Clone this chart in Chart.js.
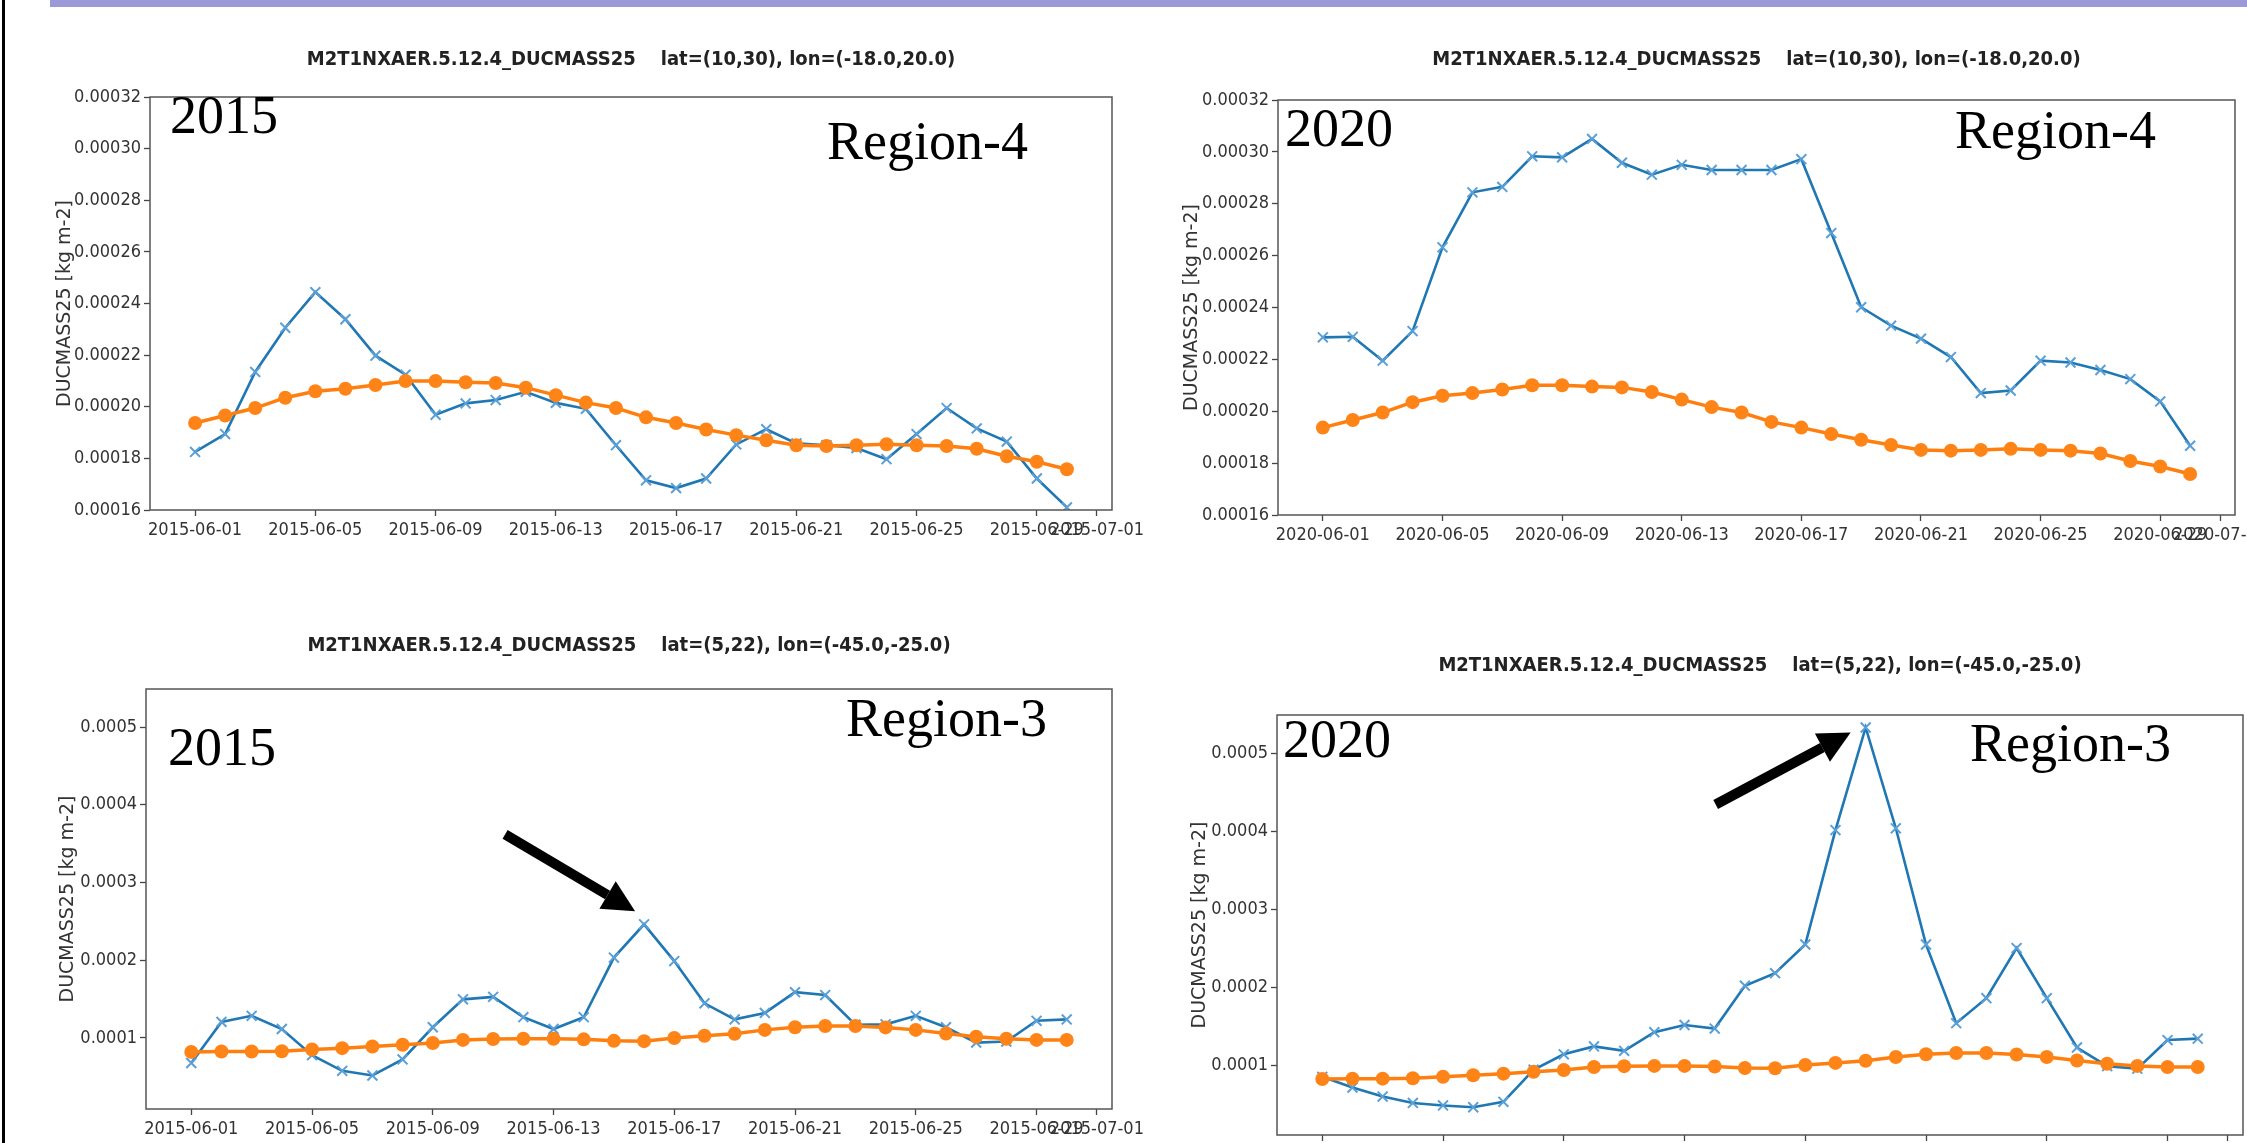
<!DOCTYPE html>
<html>
<head>
<meta charset="utf-8">
<title>DUCMASS25 daily means, June 2015 / June 2020</title>
<script src="https://cdn.jsdelivr.net/npm/chart.js@4.4.1/dist/chart.umd.min.js"></script>
<style>
  html, body { margin: 0; padding: 0; background: #fff; }
  #page { position: relative; width: 2247px; height: 1143px; overflow: hidden; background: #fff; }
  #page canvas { position: absolute; }
  .band-top { position: absolute; left: 50px; right: 0; top: 0; height: 7px; background: #9d99d9; }
  .edge-left { position: absolute; left: 2px; top: 0; width: 3px; height: 1143px; background: #000; }
</style>
</head>
<body>
<div id="page">
  <div class="band-top"></div>
  <div class="edge-left"></div>
  <canvas id="r4-2015"></canvas>
  <canvas id="r4-2020"></canvas>
  <canvas id="r3-2015"></canvas>
  <canvas id="r3-2020"></canvas>
</div>
<script>
// day of month (June), one value per day
const dayOfJune = [1, 2, 3, 4, 5, 6, 7, 8, 9, 10, 11, 12, 13, 14, 15,
                   16, 17, 18, 19, 20, 21, 22, 23, 24, 25, 26, 27, 28, 29, 30];

const xTickDays = [1, 5, 9, 13, 17, 21, 25, 29, 31];
const xTickLabels2015 = ['2015-06-01', '2015-06-05', '2015-06-09', '2015-06-13', '2015-06-17',
                         '2015-06-21', '2015-06-25', '2015-06-29', '2015-07-01'];
const xTickLabels2020 = ['2020-06-01', '2020-06-05', '2020-06-09', '2020-06-13', '2020-06-17',
                         '2020-06-21', '2020-06-25', '2020-06-29', '2020-07-01'];

const yTicksRegion4 = [0.00016, 0.00018, 0.00020, 0.00022, 0.00024, 0.00026, 0.00028, 0.00030, 0.00032];
const yTicksRegion3 = [0.0001, 0.0002, 0.0003, 0.0004, 0.0005];

// Region-4: lat=(10,30), lon=(-18.0,20.0)
const region4Daily2015 = [0.0001825, 0.0001894, 0.0002135, 0.0002306, 0.0002444, 0.0002339, 0.0002198, 0.0002124,
                          0.0001969, 0.0002013, 0.0002026, 0.0002058, 0.0002015, 0.0001992, 0.0001851, 0.0001715,
                          0.0001685, 0.0001722, 0.0001854, 0.0001913, 0.0001858, 0.0001851, 0.0001840, 0.0001797,
                          0.0001894, 0.0001995, 0.0001916, 0.0001865, 0.0001722, 0.0001610];
const region4Daily2020 = [0.0002285, 0.0002287, 0.0002195, 0.0002309, 0.0002632, 0.0002844, 0.0002865, 0.0002983,
                          0.0002979, 0.0003050, 0.0002958, 0.0002912, 0.0002950, 0.0002930, 0.0002930, 0.0002930,
                          0.0002972, 0.0002687, 0.0002401, 0.0002330, 0.0002280, 0.0002209, 0.0002070, 0.0002080,
                          0.0002195, 0.0002188, 0.0002159, 0.0002124, 0.0002038, 0.0001867];
const region4Mean = [0.0001937, 0.0001966, 0.0001995, 0.0002035, 0.0002060, 0.0002070, 0.0002084, 0.0002100,
                     0.0002100, 0.0002095, 0.0002092, 0.0002074, 0.0002045, 0.0002016, 0.0001995, 0.0001959,
                     0.0001937, 0.0001912, 0.0001890, 0.0001870, 0.0001851, 0.0001848, 0.0001851, 0.0001855,
                     0.0001851, 0.0001848, 0.0001837, 0.0001808, 0.0001787, 0.0001758];

// Region-3: lat=(5,22), lon=(-45.0,-25.0)
const region3Daily2015 = [0.0000678, 0.0001207, 0.0001285, 0.0001115, 0.0000779, 0.0000577, 0.0000517, 0.0000724,
                          0.0001138, 0.0001497, 0.0001529, 0.0001267, 0.0001115, 0.0001267, 0.0002034, 0.0002462,
                          0.0001989, 0.0001446, 0.0001239, 0.0001322, 0.0001589, 0.0001552, 0.0001170, 0.0001175,
                          0.0001285, 0.0001138, 0.0000940, 0.0000954, 0.0001221, 0.0001239];
const region3Daily2020 = [0.0000849, 0.0000711, 0.0000596, 0.0000514, 0.0000482, 0.0000459, 0.0000528, 0.0000940,
                          0.0001138, 0.0001239, 0.0001183, 0.0001422, 0.0001514, 0.0001468, 0.0002018, 0.0002179,
                          0.0002546, 0.0004014, 0.0005330, 0.0004037, 0.0002546, 0.0001537, 0.0001858, 0.0002500,
                          0.0001858, 0.0001225, 0.0000986, 0.0000954, 0.0001321, 0.0001339];
const region3Mean = [0.0000821, 0.0000826, 0.0000826, 0.0000830, 0.0000851, 0.0000869, 0.0000890, 0.0000913,
                     0.0000936, 0.0000975, 0.0000986, 0.0000989, 0.0000989, 0.0000982, 0.0000963, 0.0000959,
                     0.0001000, 0.0001028, 0.0001055, 0.0001104, 0.0001138, 0.0001154, 0.0001154, 0.0001136,
                     0.0001104, 0.0001058, 0.0001016, 0.0000989, 0.0000975, 0.0000975];

const TITLE_R4 = 'M2T1NXAER.5.12.4_DUCMASS25    lat=(10,30), lon=(-18.0,20.0)';
const TITLE_R3 = 'M2T1NXAER.5.12.4_DUCMASS25    lat=(5,22), lon=(-45.0,-25.0)';

const NARROW = "'Liberation Sans Narrow', 'DejaVu Sans Condensed', sans-serif";
const SERIF = "'Liberation Serif', 'DejaVu Serif', serif";
const Y_AXIS_W = 110;
const X_AXIS_H = 55;
const PAD_RIGHT = 45;
const TITLE_SIZE = 20;
const TITLE_PAD = 8;
const YTITLE_SIZE = 19;
const X_MARGIN = 1.5; // days of empty space either side of the data

const panels = [
  {
    id: 'r4-2015', title: TITLE_R4,
    plot: { left: 150, right: 1112, top: 97, bottom: 510 }, titleY: 60, yTitleX: 65,
    daily: region4Daily2015, mean: region4Mean, xLabels: xTickLabels2015,
    yMin: 0.00016, yMax: 0.00032, yTicks: yTicksRegion4, yDigits: 5,
    year: { text: '2015', dx: 20, dy: 36 }, region: { text: 'Region-4', dxRight: 84, dy: 62 }
  },
  {
    id: 'r4-2020', title: TITLE_R4,
    plot: { left: 1278, right: 2235, top: 100, bottom: 515 }, titleY: 60, yTitleX: 1192,
    daily: region4Daily2020, mean: region4Mean, xLabels: xTickLabels2020,
    yMin: 0.00016, yMax: 0.00032, yTicks: yTicksRegion4, yDigits: 5,
    year: { text: '2020', dx: 7, dy: 46 }, region: { text: 'Region-4', dxRight: 79, dy: 48 }
  },
  {
    id: 'r3-2015', title: TITLE_R3,
    plot: { left: 146, right: 1112, top: 689, bottom: 1109 }, titleY: 646, yTitleX: 68,
    daily: region3Daily2015, mean: region3Mean, xLabels: xTickLabels2015,
    yMin: 0.0000086, yMax: 0.000549, yTicks: yTicksRegion3, yDigits: 4,
    year: { text: '2015', dx: 22, dy: 76 }, region: { text: 'Region-3', dxRight: 65, dy: 47 },
    arrow: { tip: [-9, -13], tail: [-130, -77] }
  },
  {
    id: 'r3-2020', title: TITLE_R3,
    plot: { left: 1277, right: 2243, top: 715, bottom: 1135 }, titleY: 666, yTitleX: 1200,
    daily: region3Daily2020, mean: region3Mean, xLabels: xTickLabels2020,
    yMin: 0.0000103, yMax: 0.000549, yTicks: yTicksRegion3, yDigits: 4,
    year: { text: '2020', dx: 6, dy: 42 }, region: { text: 'Region-3', dxRight: 72, dy: 46 },
    arrow: { tip: [-15, 5], tail: [-135, 72] }
  }
];

function drawArrow(ctx, x0, y0, x1, y1) {
  const ang = Math.atan2(y1 - y0, x1 - x0);
  const headLen = 32, headHalf = 16;
  const bx = x1 - headLen * Math.cos(ang);
  const by = y1 - headLen * Math.sin(ang);
  ctx.save();
  ctx.strokeStyle = '#000';
  ctx.lineWidth = 10;
  ctx.beginPath();
  ctx.moveTo(x0, y0);
  ctx.lineTo(bx, by);
  ctx.stroke();
  ctx.fillStyle = '#000';
  ctx.beginPath();
  ctx.moveTo(x1, y1);
  ctx.lineTo(bx + headHalf * Math.sin(ang), by - headHalf * Math.cos(ang));
  ctx.lineTo(bx - headHalf * Math.sin(ang), by + headHalf * Math.cos(ang));
  ctx.closePath();
  ctx.fill();
  ctx.restore();
}

// axes box, year / region labels and the peak arrow
const decorPlugin = {
  id: 'decor',
  afterDraw(chart, args, opts) {
    const p = opts.panel;
    const { ctx, chartArea: a } = chart;
    ctx.save();
    ctx.strokeStyle = '#555';
    ctx.lineWidth = 1.5;
    ctx.strokeRect(a.left, a.top, a.right - a.left, a.bottom - a.top);

    ctx.fillStyle = '#000';
    ctx.font = '54px ' + SERIF;
    ctx.textBaseline = 'alphabetic';
    ctx.textAlign = 'left';
    ctx.fillText(p.year.text, a.left + p.year.dx, a.top + p.year.dy);
    ctx.textAlign = 'right';
    ctx.fillText(p.region.text, a.right - p.region.dxRight, a.top + p.region.dy);
    ctx.restore();

    if (p.arrow) {
      const peak = p.daily.indexOf(Math.max(...p.daily));
      const pt = chart.getDatasetMeta(1).data[peak];
      const tx = pt.x + p.arrow.tip[0], ty = pt.y + p.arrow.tip[1];
      drawArrow(ctx, tx + p.arrow.tail[0], ty + p.arrow.tail[1], tx, ty);
    }
  }
};

function makePanel(p) {
  const canvas = document.getElementById(p.id);
  const left = p.plot.left - Y_AXIS_W;
  const top = p.titleY - TITLE_PAD - (TITLE_SIZE * 1.2) / 2;
  const width = p.plot.right + PAD_RIGHT - left;
  const height = p.plot.bottom + X_AXIS_H - top;
  canvas.width = width;
  canvas.height = height;
  canvas.style.left = left + 'px';
  canvas.style.top = top + 'px';

  const titleBottomPad = p.plot.top - top - TITLE_PAD - TITLE_SIZE * 1.2;
  const yTitlePad = p.yTitleX - left - (YTITLE_SIZE * 1.2) / 2;

  new Chart(canvas, {
    type: 'line',
    data: {
      datasets: [
        {
          label: 'mean',
          data: dayOfJune.map((d, i) => ({ x: d, y: p.mean[i] })),
          borderColor: '#ff7f0e',
          backgroundColor: '#ff7f0e',
          borderWidth: 3.5,
          pointStyle: 'circle',
          pointRadius: 7,
          pointBorderWidth: 0,
          pointBackgroundColor: '#ff8418',
          order: 1
        },
        {
          label: 'daily',
          data: dayOfJune.map((d, i) => ({ x: d, y: p.daily[i] })),
          borderColor: '#1f77b4',
          backgroundColor: '#1f77b4',
          borderWidth: 2.6,
          pointStyle: 'crossRot',
          pointRadius: 7,
          pointBorderWidth: 2,
          pointBorderColor: '#5a9fd6',
          order: 2
        }
      ]
    },
    options: {
      responsive: false,
      animation: false,
      events: [],
      layout: { padding: { left: 0, right: PAD_RIGHT, top: 0, bottom: 0 } },
      elements: { line: { tension: 0 } },
      plugins: {
        legend: { display: false },
        tooltip: { enabled: false },
        title: {
          display: true,
          text: p.title,
          fullSize: false,
          color: '#222',
          font: { family: NARROW, size: TITLE_SIZE, weight: 'bold' },
          padding: { top: TITLE_PAD, bottom: titleBottomPad }
        },
        decor: { panel: p }
      },
      scales: {
        x: {
          type: 'linear',
          min: 1 - X_MARGIN,
          max: 30 + X_MARGIN,
          afterBuildTicks: (scale) => { scale.ticks = xTickDays.map(v => ({ value: v })); },
          afterFit: (scale) => { scale.height = X_AXIS_H; },
          ticks: {
            autoSkip: false,
            maxRotation: 0,
            minRotation: 0,
            padding: 4,
            color: '#333',
            font: { family: NARROW, size: 18 },
            callback: (v) => p.xLabels[xTickDays.indexOf(v)]
          },
          grid: { display: true, drawOnChartArea: false, tickLength: 6, tickWidth: 1.3, color: '#444' },
          border: { display: false }
        },
        y: {
          type: 'linear',
          min: p.yMin,
          max: p.yMax,
          afterBuildTicks: (scale) => { scale.ticks = p.yTicks.map(v => ({ value: v })); },
          afterFit: (scale) => { scale.width = Y_AXIS_W; },
          ticks: {
            padding: 3,
            color: '#333',
            font: { family: NARROW, size: 18 },
            callback: (v) => Number(v).toFixed(p.yDigits)
          },
          grid: { display: true, drawOnChartArea: false, tickLength: 6, tickWidth: 1.3, color: '#444' },
          border: { display: false },
          title: {
            display: true,
            text: 'DUCMASS25 [kg m-2]',
            color: '#333',
            font: { family: "'DejaVu Sans', sans-serif", size: YTITLE_SIZE },
            padding: { top: yTitlePad, bottom: 0 }
          }
        }
      }
    },
    plugins: [decorPlugin]
  });
}

panels.forEach(makePanel);
</script>
</body>
</html>
